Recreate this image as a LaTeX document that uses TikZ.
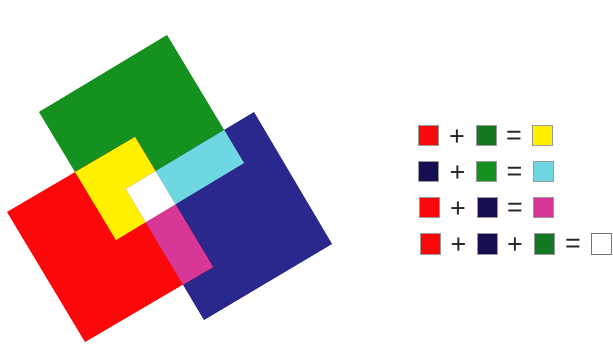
\documentclass[tikz,border=0pt]{standalone}
\usepackage{fontspec}
\setmainfont{Liberation Sans}
\begin{document}
\begin{tikzpicture}[x=1pt,y=-1pt]
\definecolor{cR}{RGB}{250,8,10}
\definecolor{cG}{RGB}{20,145,30}
\definecolor{cB}{RGB}{42,40,140}
\definecolor{cY}{RGB}{255,240,0}
\definecolor{cC}{RGB}{110,215,225}
\definecolor{cM}{RGB}{215,55,150}
\definecolor{lN}{RGB}{20,15,80}
\definecolor{lG}{RGB}{20,120,35}
\tikzset{
  sw/.style={minimum width=20pt,minimum height=20pt,inner sep=0pt,draw=black!40,line width=0.4pt},
  op/.style={inner sep=0pt,font=\fontsize{27}{27}\selectfont,text=black!85}
}
\useasboundingbox (0,0) rectangle (613,358);
\def\green{(39,112) -- (167,35) -- (244,163) -- (116,240) -- cycle}
\def\red{(7,212) -- (135,137) -- (213,267) -- (85,342) -- cycle}
\def\blue{(126,189) -- (254,112) -- (332,244) -- (204,320) -- cycle}
% squares
\fill[cG] \green;
\fill[cB] \blue;
\fill[cR] \red;
\begin{scope}\clip \green; \fill[cY] \red; \end{scope}
\begin{scope}\clip \green; \fill[cC] \blue; \end{scope}
\begin{scope}\clip \red; \fill[cM] \blue; \end{scope}
\begin{scope}\clip \green; \clip \red; \fill[white] \blue; \end{scope}
% legend row 1
\node[sw,fill=cR] (a1) at (428,135.5) {};
\node[op] (p1) at (457,138) {+};
\node[sw,fill=lG] (b1) at (486,135.5) {};
\node[op] (e1) at (514,138) {=};
\node[sw,fill=cY] (c1) at (542.5,135.5) {};
% row 2
\node[sw,fill=lN] (a2) at (428,171.7) {};
\node[op] (p2) at (457.5,174.2) {+};
\node[sw,fill=cG] (b2) at (486,171.7) {};
\node[op] (e2) at (514.5,174.2) {=};
\node[sw,fill=cC] (c2) at (543,171.7) {};
% row 3
\node[sw,fill=cR] (a3) at (429,207.7) {};
\node[op] (p3) at (458,210.2) {+};
\node[sw,fill=lN] (b3) at (487,207.7) {};
\node[op] (e3) at (515,210.2) {=};
\node[sw,fill=cM] (c3) at (543.5,207.7) {};
% row 4
\node[sw,fill=cR] (a4) at (430.5,243.7) {};
\node[op] (p4) at (458.5,246.2) {+};
\node[sw,fill=lN] (b4) at (487,243.7) {};
\node[op] (q4) at (515,246.2) {+};
\node[sw,fill=lG] (d4) at (544,243.7) {};
\node[op] (e4) at (573,246.2) {=};
\node[sw,fill=white,draw=black!55] (c4) at (601.5,243.7) {};
\end{tikzpicture}
\end{document}
